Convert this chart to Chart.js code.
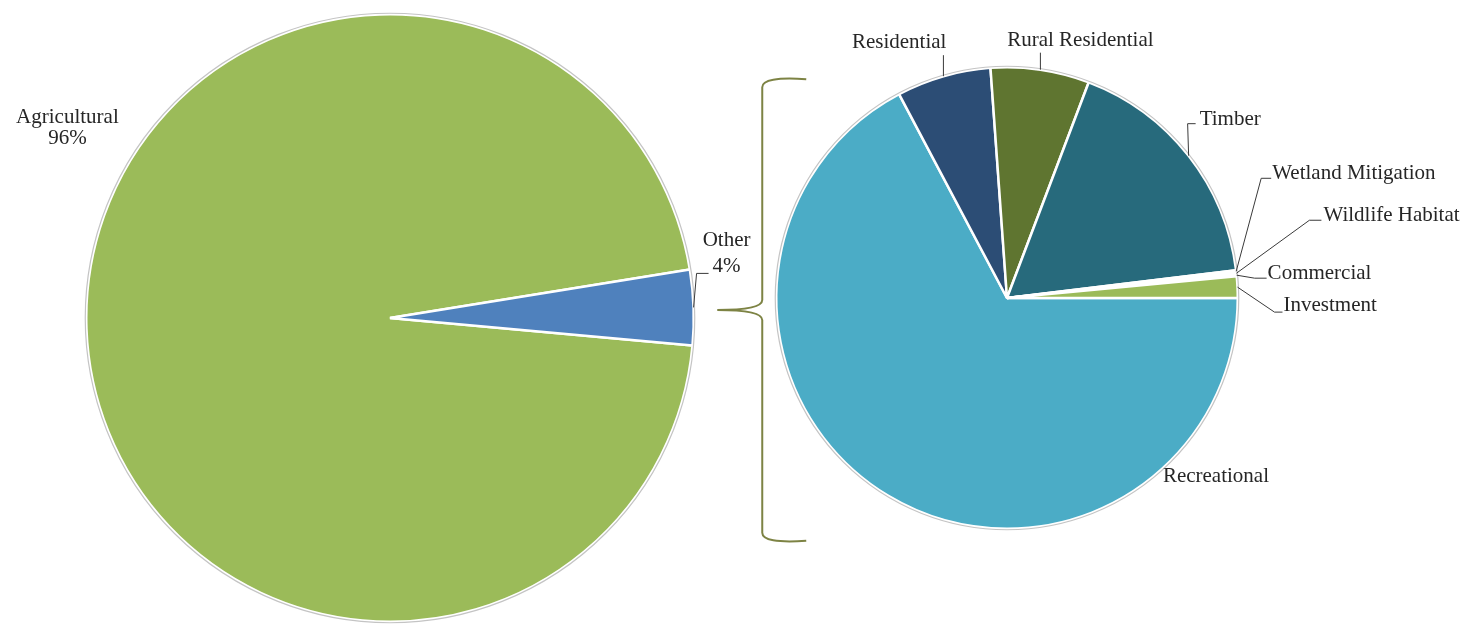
<!DOCTYPE html>
<html>
<head>
<meta charset="utf-8">
<script src="https://cdn.jsdelivr.net/npm/chart.js@4.4.0/dist/chart.umd.min.js"></script>
<style>
  html, body { margin: 0; padding: 0; background: #fff; }
  #wrap { position: relative; width: 1463px; height: 624px; overflow: hidden; }
  canvas { position: absolute; top: 0; }
  #mainPie { left: 0; }
  #otherPie { left: 700px; }
</style>
</head>
<body>
<div id="wrap">
  <canvas id="mainPie" width="780" height="624"></canvas>
  <canvas id="otherPie" width="763" height="624"></canvas>
</div>
<script>
// land use shares
const mainLabels = ['Agricultural', 'Other'];
const mainValues = [96, 4];
const mainColors = ['#9BBB59', '#4F81BD'];

// breakdown of "Other"
const otherLabels = ['Recreational', 'Residential', 'Rural Residential', 'Timber',
    'Wetland Mitigation', 'Wildlife Habitat', 'Commercial', 'Investment'];
const otherValues = [67.2, 6.6, 6.9, 17.3, 0.15, 0.12, 0.15, 1.5];
const otherColors = ['#4BACC6', '#2C4D75', '#5F7530', '#276A7C',
    '#B7DEE8', '#93CDDD', '#D9D9D9', '#9BBB59'];

const FONT = '21px "Liberation Serif", "Times New Roman", serif';
const TEXT = '#262626';
const LEADER = '#3a3a3a';

// where each label sits, offsets from the slice's outer edge midpoint
const placement = {
    'Agricultural': { text: [-19, -211], align: 'center', pct: true, line: 21 },
    'Other': { elbow: [3, -34], tail: 12, text: [33, -67], align: 'center', pct: true, line: 26 },
    'Recreational': { text: [328, -19], align: 'center' },
    'Residential': { elbow: [0, -21], text: [3, -34], align: 'right' },
    'Rural Residential': { elbow: [0, -17], text: [40, -29], align: 'center' },
    'Timber': { elbow: [-1, -32], tail: 8, text: [11, -36], align: 'left' },
    'Wetland Mitigation': { elbow: [25, -93], tail: 10, text: [36, -98], align: 'left' },
    'Wildlife Habitat': { elbow: [73, -53], tail: 12, text: [87, -58], align: 'left' },
    'Commercial': { elbow: [18, 3], tail: 12, text: [31, -2], align: 'left' },
    'Investment': { elbow: [37, 25], tail: 8, text: [46, 18], align: 'left' }
};

const sliceLabels = {
    id: 'sliceLabels',
    afterDatasetsDraw(chart) {
        const ctx = chart.ctx;
        const meta = chart.getDatasetMeta(0);
        const vals = chart.data.datasets[0].data;
        const total = vals.reduce((a, b) => a + b, 0);
        ctx.save();
        // thin grey rim round the pie
        const first = meta.data[0].getProps(['x', 'y', 'outerRadius'], true);
        ctx.beginPath();
        ctx.arc(first.x, first.y, first.outerRadius + 1, 0, Math.PI * 2);
        ctx.strokeStyle = '#C4C4C4';
        ctx.lineWidth = 1.2;
        ctx.stroke();

        ctx.font = FONT;
        ctx.fillStyle = TEXT;
        ctx.textBaseline = 'middle';
        meta.data.forEach((arc, i) => {
            const name = chart.data.labels[i];
            const p = placement[name];
            if (!p) return;
            const a = arc.getProps(['x', 'y', 'startAngle', 'endAngle', 'outerRadius'], true);
            const mid = (a.startAngle + a.endAngle) / 2;
            const ex = a.x + Math.cos(mid) * a.outerRadius;
            const ey = a.y + Math.sin(mid) * a.outerRadius;
            if (p.elbow) {
                const bx = ex + p.elbow[0], by = ey + p.elbow[1];
                ctx.beginPath();
                ctx.moveTo(ex, ey);
                ctx.lineTo(bx, by);
                if (p.tail) ctx.lineTo(bx + p.tail, by);
                ctx.strokeStyle = LEADER;
                ctx.lineWidth = 1;
                ctx.stroke();
            }
            ctx.textAlign = p.align;
            const tx = ex + p.text[0], ty = ey + p.text[1];
            ctx.fillText(name, tx, ty);
            if (p.pct) {
                ctx.fillText(Math.round(vals[i] / total * 100) + '%', tx, ty + p.line);
            }
        });
        ctx.restore();
    }
};

// curly bracket pointing from the small slice to the breakdown pie
const bracket = {
    id: 'bracket',
    afterDraw(chart) {
        const a = chart.getDatasetMeta(0).data[0].getProps(['x', 'y', 'outerRadius'], true);
        const R = a.outerRadius;
        const vx = a.x - R - 14;
        const top = a.y - R + 11, bot = a.y + R + 13;
        const tipX = a.x - R - 59, tipY = a.y + 12;
        const ctx = chart.ctx;
        ctx.save();
        ctx.beginPath();
        ctx.moveTo(vx + 44, top + 1);
        ctx.quadraticCurveTo(vx, top - 2, vx, top + 9);
        ctx.lineTo(vx, tipY - 10);
        ctx.quadraticCurveTo(vx, tipY, tipX, tipY);
        ctx.quadraticCurveTo(vx, tipY, vx, tipY + 10);
        ctx.lineTo(vx, bot - 9);
        ctx.quadraticCurveTo(vx, bot + 2, vx + 44, bot - 1);
        ctx.strokeStyle = '#7D8344';
        ctx.lineWidth = 2;
        ctx.stroke();
        ctx.restore();
    }
};

const baseOptions = (rotation, padding) => ({
    responsive: false,
    animation: false,
    devicePixelRatio: 1,
    rotation: rotation,
    layout: { padding: padding },
    events: [],
    plugins: {
        legend: { display: false },
        tooltip: { enabled: false }
    }
});

new Chart(document.getElementById('mainPie'), {
    type: 'pie',
    data: {
        labels: mainLabels,
        datasets: [{
            data: mainValues,
            backgroundColor: mainColors,
            borderColor: '#ffffff',
            borderWidth: 2.5,
            hoverOffset: 0
        }]
    },
    options: baseOptions(95.2, { left: 85, right: 85, top: 13, bottom: 1 }),
    plugins: [sliceLabels]
});

new Chart(document.getElementById('otherPie'), {
    type: 'pie',
    data: {
        labels: otherLabels,
        datasets: [{
            data: otherValues,
            backgroundColor: otherColors,
            borderColor: '#ffffff',
            borderWidth: 2.5,
            hoverOffset: 0
        }]
    },
    options: baseOptions(90, { left: 75, right: 224, top: 66, bottom: 94 }),
    plugins: [sliceLabels, bracket]
});
</script>
</body>
</html>
